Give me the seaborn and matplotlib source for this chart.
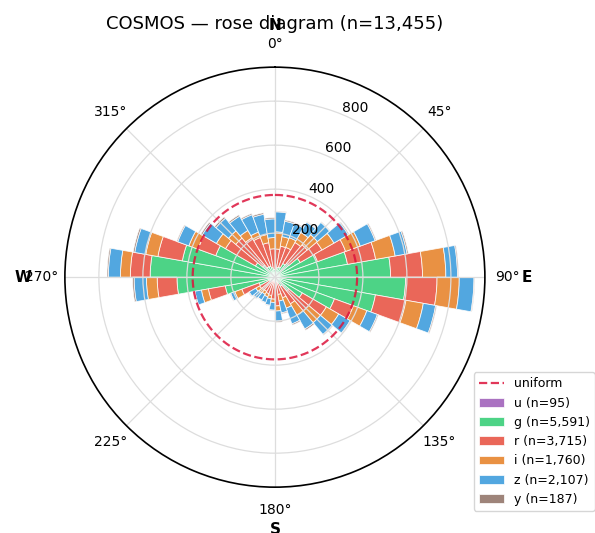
import numpy as np
import matplotlib
matplotlib.use("Agg")
import matplotlib.pyplot as plt
import seaborn as sns

# 10 degree bins, compass angle (clockwise from N)
bin_starts = np.arange(0, 360, 10)

band_names = ["u", "g", "r", "i", "z", "y"]
band_colors = ["#9b59b6", "#2ecc71", "#e74c3c", "#e67e22", "#3498db", "#8d6e63"]

u_counts = [2, 2, 3, 3, 3, 3, 3, 4, 4, 4, 4, 3, 3, 2, 2, 2, 2, 2,
            2, 2, 2, 2, 2, 2, 2, 2, 4, 4, 3, 3, 3, 3, 2, 2, 2, 2]
g_counts = [33, 43, 47, 69, 79, 130, 203, 331, 522, 590, 460, 285, 141, 80, 46, 27, 19, 23,
            18, 16, 15, 14, 18, 23, 74, 227, 441, 563, 424, 283, 99, 69, 53, 51, 42, 33]
r_counts = [93, 98, 94, 110, 110, 114, 136, 130, 145, 143, 141, 92, 126, 118, 92, 71, 59, 106,
            80, 67, 63, 59, 55, 55, 84, 78, 90, 90, 113, 86, 157, 160, 152, 139, 115, 94]
i_counts = [78, 44, 47, 53, 60, 63, 71, 90, 106, 101, 80, 65, 65, 70, 60, 50, 30, 23,
            15, 15, 15, 15, 20, 20, 34, 32, 49, 45, 56, 44, 48, 43, 38, 26, 38, 51]
z_counts = [91, 71, 67, 53, 73, 75, 72, 55, 53, 67, 57, 51, 60, 70, 72, 76, 55, 46,
            35, 30, 28, 30, 32, 35, 20, 30, 56, 55, 51, 54, 75, 75, 75, 84, 93, 85]
y_counts = [4, 6, 5, 4, 4, 5, 5, 6, 5, 4, 5, 5, 4, 5, 7, 6, 5, 6,
            4, 3, 3, 3, 4, 4, 4, 5, 7, 6, 7, 5, 7, 8, 7, 6, 7, 6]

band_counts = [u_counts, g_counts, r_counts, i_counts, z_counts, y_counts]
n_total = sum(sum(c) for c in band_counts)

sns.set_theme(style="white")
plt.rcParams.update({"text.color": "black", "xtick.color": "black",
                     "ytick.color": "black", "axes.axisbelow": "line"})

fig = plt.figure(figsize=(5.95, 5.33), dpi=100)
ax = fig.add_axes([0.109, 0.086, 0.706, 0.788], projection="polar")
ax.set_theta_zero_location("N")
ax.set_theta_direction(-1)

theta = np.deg2rad(bin_starts + 5)
width = np.deg2rad(10)
bottom = np.zeros(len(bin_starts))
bar_handles = []
for name, vals, col in zip(band_names, band_counts, band_colors):
    vals = np.array(vals)
    b = ax.bar(theta, vals, width=width, bottom=bottom, color=col, alpha=0.85,
               edgecolor="white", linewidth=0.6, label=f"{name} (n={vals.sum():,})")
    bar_handles.append(b)
    bottom = bottom + vals

# uniform expectation
uniform = n_total / len(bin_starts)
th = np.linspace(0, 2 * np.pi, 361)
line, = ax.plot(th, np.full_like(th, uniform), ls="--", color="crimson", lw=1.6,
                alpha=0.85, label="uniform", zorder=4)

rmax = bottom.max() * 1.05
ax.set_ylim(0, rmax)
ax.set_yticks([200, 400, 600, 800])
ax.set_rlabel_position(22.5)
ax.set_thetagrids(range(0, 360, 45), labels=[f"{d}°" for d in range(0, 360, 45)])
ax.tick_params(axis="x", labelsize=10)
ax.tick_params(axis="y", labelsize=10)
ax.grid(True, color="#dddddd", linewidth=0.9)
ax.spines["polar"].set_color("black")
ax.spines["polar"].set_linewidth(1.2)

for lab, ang in zip(["N", "E", "S", "W"], [0, 90, 180, 270]):
    ax.text(np.deg2rad(ang), rmax * 1.2, lab, ha="center", va="center",
            fontsize=11, fontweight="bold")

ax.set_title(f"COSMOS — rose diagram (n={n_total:,})", fontsize=13)

ax.legend([line] + bar_handles, ["uniform"] + [b.get_label() for b in bar_handles],
          loc="lower right", bbox_to_anchor=(1.01, 0.03), bbox_transform=fig.transFigure,
          fontsize=9, frameon=True)

fig.savefig("out.png", dpi=100)
